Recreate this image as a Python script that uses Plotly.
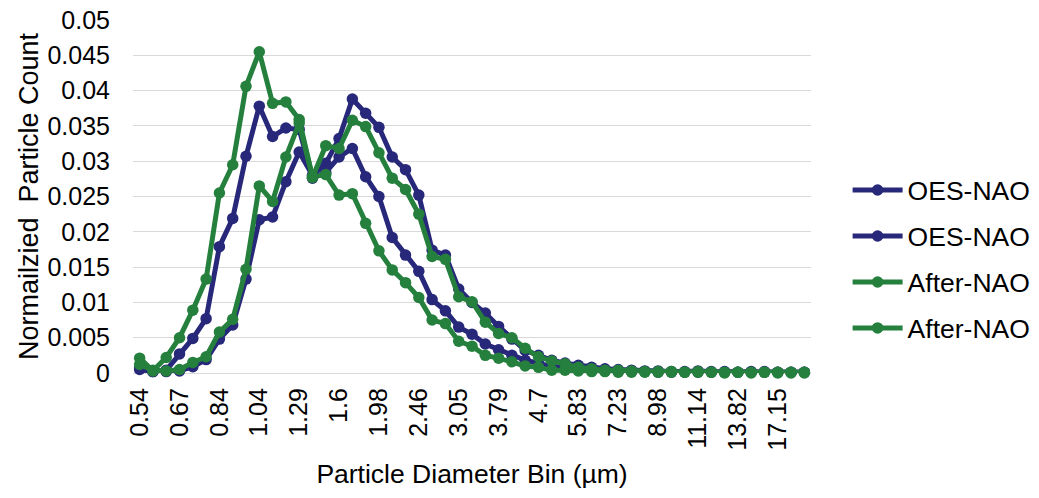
import plotly.graph_objects as go

bins = ["0.54", "0.58", "0.62", "0.67", "0.72", "0.78", "0.84", "0.9", "0.97", "1.04",
        "1.12", "1.2", "1.29", "1.39", "1.49", "1.6", "1.72", "1.85", "1.98", "2.13",
        "2.29", "2.46", "2.64", "2.84", "3.05", "3.28", "3.52", "3.79", "4.07", "4.37",
        "4.7", "5.05", "5.43", "5.83", "6.27", "6.73", "7.23", "7.77", "8.35", "8.98",
        "9.65", "10.37", "11.14", "11.97", "12.86", "13.82", "14.85", "15.96", "17.15", "18.43",
        "19.81"]

oes_nao_1 = [0.0007, 0.0002, 0.0004, 0.0027, 0.0049, 0.0077, 0.0179, 0.0219, 0.0307, 0.0378,
             0.0335, 0.0347, 0.0345, 0.0276, 0.0284, 0.0306, 0.0318, 0.0278, 0.0250, 0.0192,
             0.0167, 0.0144, 0.0104, 0.0088, 0.0065, 0.0055, 0.0041, 0.0033, 0.0025, 0.0018,
             0.0014, 0.0009, 0.0007, 0.0005, 0.0004, 0.0003, 0.0002, 0.0002, 0.0002, 0.0001,
             0.0001, 0.0001, 0.0001, 0.0001, 0.0001, 0.0001, 0.0001, 0.0001, 0.0001, 0.0001,
             0.0001]

oes_nao_2 = [0.0005, 0.0002, 0.0002, 0.0003, 0.0009, 0.0019, 0.0048, 0.0068, 0.0133, 0.0217,
             0.0221, 0.0271, 0.0313, 0.0280, 0.0297, 0.0332, 0.0388, 0.0368, 0.0348, 0.0306,
             0.0288, 0.0252, 0.0174, 0.0167, 0.0119, 0.0100, 0.0085, 0.0066, 0.0048, 0.0032,
             0.0025, 0.0018, 0.0014, 0.0011, 0.0008, 0.0006, 0.0005, 0.0004, 0.0003, 0.0003,
             0.0002, 0.0002, 0.0003, 0.0002, 0.0002, 0.0001, 0.0002, 0.0002, 0.0001, 0.0001,
             0.0001]

after_nao_1 = [0.0021, 0.0003, 0.0022, 0.0050, 0.0089, 0.0133, 0.0255, 0.0295, 0.0406, 0.0455,
               0.0382, 0.0384, 0.0359, 0.0278, 0.0281, 0.0252, 0.0254, 0.0212, 0.0173, 0.0146,
               0.0128, 0.0107, 0.0075, 0.0070, 0.0045, 0.0038, 0.0025, 0.0021, 0.0016, 0.0010,
               0.0008, 0.0004, 0.0004, 0.0003, 0.0002, 0.0002, 0.0001, 0.0001, 0.0001, 0.0001,
               0.0001, 0.0001, 0.0001, 0.0001, 0.0000, 0.0001, 0.0000, 0.0001, 0.0000, 0.0000,
               0.0000]

after_nao_2 = [0.0012, 0.0004, 0.0003, 0.0005, 0.0015, 0.0023, 0.0058, 0.0076, 0.0147, 0.0265,
               0.0243, 0.0306, 0.0354, 0.0277, 0.0322, 0.0318, 0.0358, 0.0349, 0.0312, 0.0276,
               0.0260, 0.0225, 0.0165, 0.0161, 0.0108, 0.0101, 0.0072, 0.0056, 0.0050, 0.0035,
               0.0023, 0.0017, 0.0013, 0.0008, 0.0006, 0.0004, 0.0004, 0.0003, 0.0002, 0.0002,
               0.0002, 0.0001, 0.0002, 0.0001, 0.0001, 0.0001, 0.0001, 0.0001, 0.0001, 0.0001,
               0.0001]

y_ticks = [0, 0.005, 0.01, 0.015, 0.02, 0.025, 0.03, 0.035, 0.04, 0.045, 0.05]
y_tick_text = ["0", "0.005", "0.01", "0.015", "0.02", "0.025", "0.03", "0.035", "0.04", "0.045", "0.05"]

NAVY = "#28287A"
GREEN = "#25803D"
FONT = "Liberation Sans, Arial, sans-serif"

series = [
    ("OES-NAO", oes_nao_1, NAVY),
    ("OES-NAO", oes_nao_2, NAVY),
    ("After-NAO", after_nao_1, GREEN),
    ("After-NAO", after_nao_2, GREEN),
]

fig = go.Figure()
for k, (name, vals, col) in enumerate(series):
    fig.add_trace(go.Scatter(
        x=bins, y=vals, name=name, mode="lines+markers",
        line=dict(color=col, width=5),
        marker=dict(color=col, size=11.5),
        legendgroup=f"g{k}", cliponaxis=False,
    ))

fig.update_layout(
    width=1039, height=498,
    margin=dict(l=133, r=228, t=20, b=125, autoexpand=False),
    paper_bgcolor="white", plot_bgcolor="white",
    font=dict(family=FONT, size=25, color="#000000"),
    showlegend=True,
    legend=dict(
        x=1.054, xanchor="left", y=0.322, yanchor="middle",
        font=dict(family=FONT, size=26.5, color="#000000"),
        tracegroupgap=8.5, traceorder="grouped", itemwidth=50,
        bgcolor="rgba(0,0,0,0)",
    ),
    xaxis=dict(
        type="category", range=[-0.5, len(bins) - 0.5], automargin=False,
        tickmode="array", tickvals=bins[::3], ticktext=bins[::3],
        tickangle=-90, ticks="", showgrid=False, zeroline=False,
        showline=True, linecolor="#D9D9D9", linewidth=1.3, layer="below traces",
        tickfont=dict(family=FONT, size=25, color="#000000"),
        ticklabelstandoff=4,
        title=dict(text="Particle Diameter Bin (µm)", font=dict(family=FONT, size=26.5, color="#000000"), standoff=14),
    ),
    yaxis=dict(
        range=[0, 0.0500015], tickmode="array", tickvals=y_ticks, ticktext=y_tick_text,
        automargin=False, ticklabeloverflow="allow",
        showgrid=True, gridcolor="#D9D9D9", gridwidth=1.3, zeroline=False,
        ticks="", ticklabelstandoff=22,
        tickfont=dict(family=FONT, size=25, color="#000000"),
        title=dict(text="Normailzied\u00a0 Particle Count", font=dict(family=FONT, size=27, color="#000000"), standoff=0),
    ),
)

fig.write_html("out.html", config={"displayModeBar": False},
               post_script="document.body.style.margin='0';")
